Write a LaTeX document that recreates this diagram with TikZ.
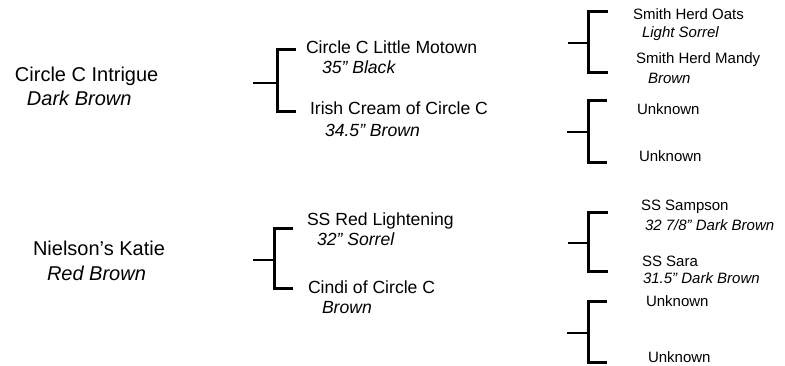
\documentclass[tikz,border=0pt]{standalone}
\usepackage{fontspec}
\setmainfont{Liberation Sans}
\begin{document}
\begin{tikzpicture}[x=1pt,y=-1pt,
  lbl/.style={anchor=base west, inner sep=0pt, outer sep=0pt},
  big/.style={lbl, font=\fontsize{20}{22}\selectfont},
  bigit/.style={lbl, font=\fontsize{20}{22}\selectfont\itshape},
  mid/.style={lbl, font=\fontsize{17.6}{20}\selectfont},
  midit/.style={lbl, font=\fontsize{17.6}{20}\selectfont\itshape},
  sml/.style={lbl, font=\fontsize{15}{18}\selectfont},
  smlit/.style={lbl, font=\fontsize{15}{18}\selectfont\itshape},
  brk/.style={line width=3pt, line join=miter},
  stubline/.style={line width=2.6pt}]
\useasboundingbox (0,0) rectangle (785,365);

% left column
\node[big]   (p1)  at (15,81)  {Circle C Intrigue};
\node[bigit] (p1c) at (27,105) {Dark Brown};
\node[big]   (p2)  at (33,255) {Nielson’s Katie};
\node[bigit] (p2c) at (47,280) {Red Brown};

% middle column
\node[mid]   (m1)  at (306,53)  {Circle C Little Motown};
\node[midit] (m1c) at (322,73)  {35” Black};
\node[mid]   (m2)  at (310,114) {Irish Cream of Circle C};
\node[midit] (m2c) at (325,136) {34.5” Brown};
\node[mid]   (m3)  at (307,225) {SS Red Lightening};
\node[midit] (m3c) at (317,245) {32” Sorrel};
\node[mid]   (m4)  at (308,293) {Cindi of Circle C};
\node[midit] (m4c) at (322,313) {Brown};

% right column
\node[sml]   (r1)  at (633,19)    {Smith Herd Oats};
\node[smlit] (r1c) at (642,37)    {Light Sorrel};
\node[sml]   (r2)  at (636,63)    {Smith Herd Mandy};
\node[smlit] (r2c) at (648,83)    {Brown};
\node[sml]   (r3)  at (637,114)   {Unknown};
\node[sml]   (r4)  at (639,161)   {Unknown};
\node[sml]   (r5)  at (641,210.5) {SS Sampson};
\node[smlit] (r5c) at (645,230)   {32 7/8” Dark Brown};
\node[sml]   (r6)  at (642,266)   {SS Sara};
\node[smlit] (r6c) at (643,283)   {31.5” Dark Brown};
\node[sml]   (r7)  at (646,306.5) {Unknown};
\node[sml]   (r8)  at (648,362.5) {Unknown};

% bracket coordinates: stub start, vertical top/mid/bottom, arm ends
\foreach \n/\xs/\xv/\xa/\yt/\ym/\yb in {
  b1/253/277/296/49/83/111,
  b2/568/588/608/11/43/72,
  b3/567/588/607/100/132/162,
  b4/568/588/608/212/243/271,
  b5/567/588/607/301/333/362,
  b6/253/274/293/228/260/288}{
  \coordinate (\n s) at (\xs,\ym);
  \coordinate (\n m) at (\xv,\ym);
  \coordinate (\n t) at (\xv,\yt);
  \coordinate (\n b) at (\xv,\yb);
  \coordinate (\n ta) at (\xa,\yt);
  \coordinate (\n ba) at (\xa,\yb);
}
\foreach \n in {b1,b2,b3,b4,b5,b6}{
  \draw[brk] (\n ta) -- (\n t) -- (\n b) -- (\n ba);
  \draw[stubline] (\n s) -- (\n m);
}
\end{tikzpicture}
\end{document}
